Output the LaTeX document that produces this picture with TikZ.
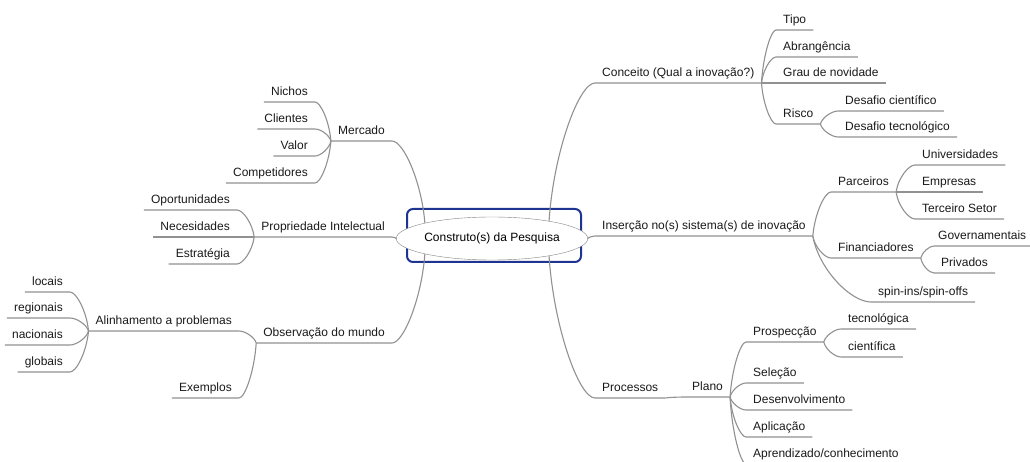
\documentclass[tikz,border=0pt]{standalone}
\usepackage{fontspec}
\setmainfont{Liberation Sans}
\usetikzlibrary{shapes.geometric,calc}

\begin{document}
\begin{tikzpicture}[x=1pt, y=-1pt, font=\fontsize{12}{14}\selectfont,
    topico/.style={inner xsep=7pt, inner ysep=3pt, text height=9pt, text depth=3pt, text=textogray},
    dir/.style={topico, anchor=south west},
    esq/.style={topico, anchor=south east},
    linha/.style={draw=linhagray, line width=1.1pt},
    ramo/.style={to path={let \p1=(\tikztostart), \p2=(\tikztotarget) in
        .. controls ({(\x1)+0.1*((\x2)-(\x1))},{(\y1)+0.5*((\y2)-(\y1))}) and ({(\x2)-0.35*((\x2)-(\x1))},\y2) .. (\tikztotarget) \tikztonodes}}]

    % Cores
    \definecolor{textogray}{RGB}{25,25,25}
    \definecolor{linhagray}{RGB}{145,145,145}
    \definecolor{elipsegray}{RGB}{130,130,130}
    \definecolor{boxblue}{RGB}{30,52,145}

    \useasboundingbox (0,0) rectangle (1030,462);
    \clip (0,0) rectangle (1030,462);

    % No central
    \node[draw=boxblue, line width=2pt, rounded corners=6pt, minimum width=174pt, minimum height=53pt] (quadro) at (494,235.5) {};
    \node[ellipse, draw=elipsegray, fill=white, minimum width=162pt, minimum height=43pt, inner sep=0pt] (raiz) at (492,238.5) {Construto(s) da Pesquisa};

    % Lado direito: Conceito
    \node[dir] (conc) at (595,83) {Conceito (Qual a inovação?)};
    \node[dir] (tipo) at (776,30) {Tipo};
    \node[dir] (abr) at (776,57) {Abrangência};
    \node[dir] (grau) at (776,83) {Grau de novidade};
    \node[dir] (risco) at (776,124) {Risco};
    \node[dir] (dcien) at (838,111) {Desafio científico};
    \node[dir] (dtec) at (838,137) {Desafio tecnológico};

    % Lado direito: Insercao
    \node[dir] (ins) at (595,236) {Inserção no(s) sistema(s) de inovação};
    \node[dir] (parc) at (831,192) {Parceiros};
    \node[dir] (univ) at (915,165) {Universidades};
    \node[dir] (emp) at (915,192) {Empresas};
    \node[dir] (terc) at (915,219) {Terceiro Setor};
    \node[dir] (fin) at (831,258) {Financiadores};
    \node[dir, inner xsep=4pt] (gov) at (934,246) {Governamentais};
    \node[dir] (priv) at (934,273) {Privados};
    \node[dir] (spin) at (871,302) {spin-ins/spin-offs};

    % Lado direito: Processos
    \node[dir] (proc) at (595,398) {Processos};
    \node[dir] (plano) at (685,397) {Plano};
    \node[dir] (prosp) at (746,342) {Prospecção};
    \node[dir] (tecn) at (841,329) {tecnológica};
    \node[dir] (cien) at (841,357) {científica};
    \node[dir] (sel) at (746,383) {Seleção};
    \node[dir] (desenv) at (746,410) {Desenvolvimento};
    \node[dir] (apl) at (746,437) {Aplicação};
    \node[dir] (apr) at (746,464) {Aprendizado/conhecimento};

    % Lado esquerdo
    \node[esq] (merc) at (392,141) {Mercado};
    \node[esq] (nich) at (315,102) {Nichos};
    \node[esq] (cli) at (315,129) {Clientes};
    \node[esq] (val) at (315,156) {Valor};
    \node[esq] (comp) at (315,183) {Competidores};

    \node[esq] (pi) at (392,237) {Propriedade Intelectual};
    \node[esq] (oport) at (237,210) {Oportunidades};
    \node[esq] (neces) at (237,237) {Necesidades};
    \node[esq] (estr) at (237,264) {Estratégia};

    \node[esq] (obs) at (392,343) {Observação do mundo};
    \node[esq] (alin) at (239,331) {Alinhamento a problemas};
    \node[esq] (loc) at (70,292) {locais};
    \node[esq] (reg) at (70,318) {regionais};
    \node[esq] (nac) at (70,345) {nacionais};
    \node[esq] (glob) at (70,372) {globais};
    \node[esq] (exem) at (239,398) {Exemplos};

    % Ligacoes a direita
    \draw[linha] (raiz.17) to[ramo] (conc.south west) -- (conc.south east);
    \foreach \f in {tipo,abr,grau,risco}
        \draw[linha] (conc.south east) to[ramo] (\f.south west) -- (\f.south east);
    \foreach \f in {dcien,dtec}
        \draw[linha] (risco.south east) to[ramo] (\f.south west) -- (\f.south east);

    \draw[linha] (raiz.east) to[ramo] (ins.south west) -- (ins.south east);
    \foreach \f in {parc,fin,spin}
        \draw[linha] (ins.south east) to[ramo] (\f.south west) -- (\f.south east);
    \foreach \f in {univ,emp,terc}
        \draw[linha] (parc.south east) to[ramo] (\f.south west) -- (\f.south east);
    \foreach \f in {gov,priv}
        \draw[linha] (fin.south east) to[ramo] (\f.south west) -- (\f.south east);

    \draw[linha] (raiz.-17) to[ramo] (proc.south west) -- (proc.south east);
    \draw[linha] (proc.south east) to[ramo] (plano.south west) -- (plano.south east);
    \foreach \f in {prosp,sel,desenv,apl,apr}
        \draw[linha] (plano.south east) to[ramo] (\f.south west) -- (\f.south east);
    \foreach \f in {tecn,cien}
        \draw[linha] (prosp.south east) to[ramo] (\f.south west) -- (\f.south east);

    % Ligacoes a esquerda
    \draw[linha] (raiz.167) to[ramo] (merc.south east) -- (merc.south west);
    \foreach \f in {nich,cli,val,comp}
        \draw[linha] (merc.south west) to[ramo] (\f.south east) -- (\f.south west);

    \draw[linha] (raiz.west) to[ramo] (pi.south east) -- (pi.south west);
    \foreach \f in {oport,neces,estr}
        \draw[linha] (pi.south west) to[ramo] (\f.south east) -- (\f.south west);

    \draw[linha] (raiz.193) to[ramo] (obs.south east) -- (obs.south west);
    \foreach \f in {alin,exem}
        \draw[linha] (obs.south west) to[ramo] (\f.south east) -- (\f.south west);
    \foreach \f in {loc,reg,nac,glob}
        \draw[linha] (alin.south west) to[ramo] (\f.south east) -- (\f.south west);

\end{tikzpicture}
\end{document}
